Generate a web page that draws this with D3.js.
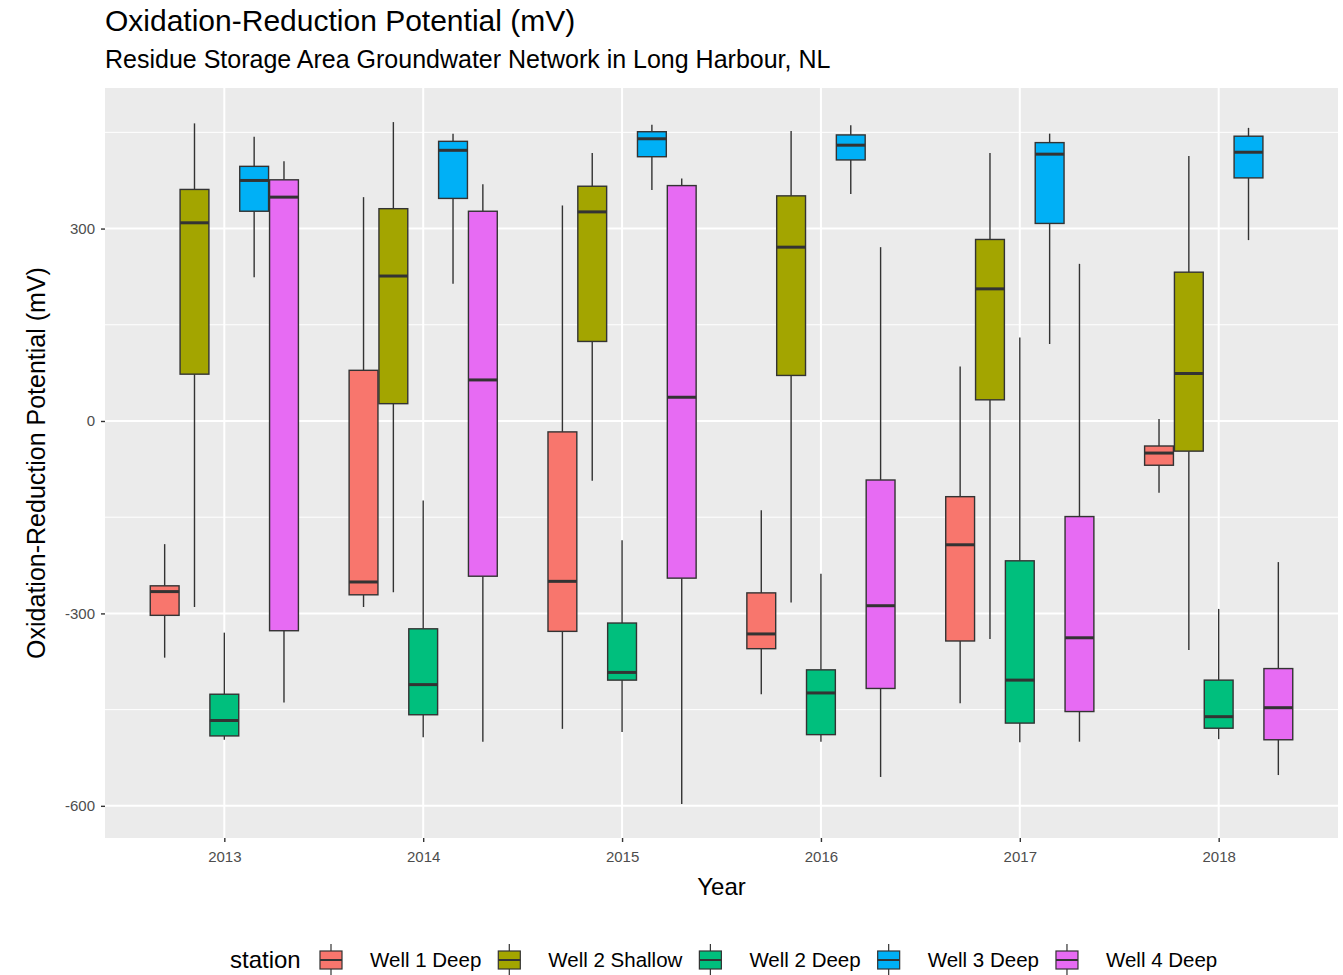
<!DOCTYPE html>
<html>
<head>
<meta charset="utf-8">
<script src="https://cdn.jsdelivr.net/npm/d3@7"></script>
<style>
  html, body { margin: 0; padding: 0; background: #ffffff; }
  svg { display: block; font-family: "Liberation Sans", Arial, sans-serif; }
</style>
</head>
<body>
<svg id="chart" width="1343" height="975"></svg>
<script>
// Sampling years and stations
const years = ["2013", "2014", "2015", "2016", "2017", "2018"];
const stations = ["Well 1 Deep", "Well 2 Shallow", "Well 2 Deep", "Well 3 Deep", "Well 4 Deep"];
const stationColors = ["#F8766D", "#A3A500", "#00BF7D", "#00B0F6", "#E76BF3"];

// Box statistics per year: [lower whisker, Q1, median, Q3, upper whisker] in mV
const well1Deep = [
  [-369, -303, -266, -257, -192],
  [-290, -271, -251, 79, 349],
  [-480, -328, -250, -17, 336],
  [-426, -355, -332, -268, -139],
  [-440, -343, -193, -118, 85],
  [-112, -69, -50, -39, 3]
];
const well2Shallow = [
  [-290, 73, 309, 361, 464],
  [-267, 27, 226, 331, 466],
  [-93, 124, 326, 366, 418],
  [-283, 71, 271, 351, 452],
  [-340, 33, 206, 283, 418],
  [-357, -47, 74, 232, 413]
];
const well2Deep = [
  [-497, -491, -467, -426, -330],
  [-493, -458, -411, -324, -124],
  [-485, -404, -392, -315, -186],
  [-500, -489, -424, -388, -238],
  [-501, -471, -404, -218, 130],
  [-496, -479, -461, -404, -293]
];
const well3Deep = [
  [224, 327, 375, 397, 443],
  [214, 347, 422, 436, 448],
  [360, 412, 440, 451, 462],
  [354, 407, 430, 446, 461],
  [120, 308, 416, 434, 448],
  [282, 379, 419, 444, 457]
];
const well4Deep = [
  [-439, -327, 349, 376, 405],
  [-500, -242, 64, 327, 369],
  [-597, -245, 37, 367, 378],
  [-555, -417, -288, -92, 271],
  [-500, -453, -338, -149, 245],
  [-552, -497, -447, -386, -220]
];

const yTicks = [-600, -300, 0, 300];
const yMinorTicks = [-450, -150, 150, 450];

const titleText = "Oxidation-Reduction Potential (mV)";
const subtitleText = "Residue Storage Area Groundwater Network in Long Harbour, NL";
const xTitle = "Year";
const yTitle = "Oxidation-Reduction Potential (mV)";
const legendTitle = "station";

// Flatten into records
const seriesStats = [well1Deep, well2Shallow, well2Deep, well3Deep, well4Deep];
const records = [];
stations.forEach((st, si) => {
  years.forEach((yr, yi) => {
    const [lo, q1, med, q3, hi] = seriesStats[si][yi];
    records.push({ station: st, year: yr, lo, q1, med, q3, hi, color: stationColors[si] });
  });
});

const svg = d3.select("#chart");
const panel = { left: 105, right: 1338, top: 88, bottom: 838 };

// Scales
const x = d3.scalePoint().domain(years).range([panel.left, panel.right]).padding(0.6);
const step = x.step();
const dodge = d3.scaleBand().domain(stations).range([-0.375 * step, 0.375 * step]).padding(0);

const allVals = records.flatMap(d => [d.lo, d.hi]);
const vMin = d3.min(allVals), vMax = d3.max(allVals);
const pad = (vMax - vMin) * 0.05;
const y = d3.scaleLinear().domain([vMin - pad, vMax + pad]).range([panel.bottom, panel.top]);

const color = d3.scaleOrdinal().domain(stations).range(stationColors);

// Panel background
svg.append("rect")
  .attr("x", panel.left).attr("y", panel.top)
  .attr("width", panel.right - panel.left).attr("height", panel.bottom - panel.top)
  .attr("fill", "#EBEBEB");

// Grid lines
const grid = svg.append("g");
grid.selectAll(".minor").data(yMinorTicks.filter(v => v >= y.domain()[0] && v <= y.domain()[1]))
  .join("line")
  .attr("x1", panel.left).attr("x2", panel.right)
  .attr("y1", d => y(d)).attr("y2", d => y(d))
  .attr("stroke", "#FFFFFF").attr("stroke-width", 1);
grid.selectAll(".major").data(yTicks)
  .join("line")
  .attr("x1", panel.left).attr("x2", panel.right)
  .attr("y1", d => y(d)).attr("y2", d => y(d))
  .attr("stroke", "#FFFFFF").attr("stroke-width", 2);
grid.selectAll(".vmajor").data(years)
  .join("line")
  .attr("x1", d => x(d)).attr("x2", d => x(d))
  .attr("y1", panel.top).attr("y2", panel.bottom)
  .attr("stroke", "#FFFFFF").attr("stroke-width", 2);

// Boxplots
const boxes = svg.append("g").selectAll("g").data(records).join("g")
  .attr("transform", d => `translate(${x(d.year) + dodge(d.station)},0)`);
const bw = dodge.bandwidth();

boxes.append("line")
  .attr("x1", bw / 2).attr("x2", bw / 2)
  .attr("y1", d => y(d.hi)).attr("y2", d => y(d.q3))
  .attr("stroke", "#333333").attr("stroke-width", 1.4);
boxes.append("line")
  .attr("x1", bw / 2).attr("x2", bw / 2)
  .attr("y1", d => y(d.q1)).attr("y2", d => y(d.lo))
  .attr("stroke", "#333333").attr("stroke-width", 1.4);
boxes.append("rect")
  .attr("x", 0.5).attr("width", bw - 1)
  .attr("y", d => y(d.q3)).attr("height", d => y(d.q1) - y(d.q3))
  .attr("fill", d => d.color)
  .attr("stroke", "#333333").attr("stroke-width", 1.4);
boxes.append("line")
  .attr("x1", 0.5).attr("x2", bw - 0.5)
  .attr("y1", d => y(d.med)).attr("y2", d => y(d.med))
  .attr("stroke", "#333333").attr("stroke-width", 3);

// Axes
const yAxis = svg.append("g")
  .attr("transform", `translate(${panel.left},0)`)
  .call(d3.axisLeft(y).tickValues(yTicks).tickFormat(d => String(d)).tickSize(4).tickPadding(6));
const xAxis = svg.append("g")
  .attr("transform", `translate(0,${panel.bottom})`)
  .call(d3.axisBottom(x).tickSize(4).tickPadding(9));
[yAxis, xAxis].forEach(a => {
  a.select(".domain").remove();
  a.selectAll(".tick line").attr("stroke", "#333333").attr("stroke-width", 1.4);
  a.selectAll(".tick text").attr("fill", "#4D4D4D").attr("font-size", 15)
    .attr("font-family", "Liberation Sans, Arial, sans-serif");
});

// Titles
svg.append("text").attr("x", panel.left).attr("y", 31)
  .attr("font-size", 30).attr("fill", "#000").text(titleText);
svg.append("text").attr("x", panel.left).attr("y", 68)
  .attr("font-size", 25).attr("fill", "#000").text(subtitleText);
svg.append("text").attr("x", (panel.left + panel.right) / 2).attr("y", 895)
  .attr("text-anchor", "middle").attr("font-size", 24).attr("fill", "#000").text(xTitle);
svg.append("text")
  .attr("transform", `translate(38,${(panel.top + panel.bottom) / 2}) rotate(-90)`)
  .attr("text-anchor", "middle").attr("dominant-baseline", "middle")
  .attr("font-size", 25).attr("fill", "#000").text(yTitle);

// Legend: title, then key glyph + label per station, laid out left to right
const legend = svg.append("g").attr("transform", "translate(0,960)");
legend.append("text").attr("x", 230).attr("y", 8).attr("font-size", 24).text(legendTitle);
const kw = 22, kh = 32;
let cursor = 320;
stations.forEach(st => {
  const item = legend.append("g").attr("transform", `translate(${cursor},0)`);
  item.append("line").attr("x1", kw / 2).attr("x2", kw / 2).attr("y1", -kh / 2).attr("y2", kh / 2)
    .attr("stroke", "#333333").attr("stroke-width", 1.2);
  item.append("rect").attr("x", 0).attr("y", -9).attr("width", kw).attr("height", 18)
    .attr("fill", color(st)).attr("stroke", "#333333").attr("stroke-width", 1.2);
  item.append("line").attr("x1", 0).attr("x2", kw).attr("y1", 0).attr("y2", 0)
    .attr("stroke", "#333333").attr("stroke-width", 2);
  const label = item.append("text").attr("x", kw + 28).attr("y", 7).attr("font-size", 20.5).text(st);
  cursor += kw + 28 + label.node().getComputedTextLength() + 17;
});
</script>
</body>
</html>
